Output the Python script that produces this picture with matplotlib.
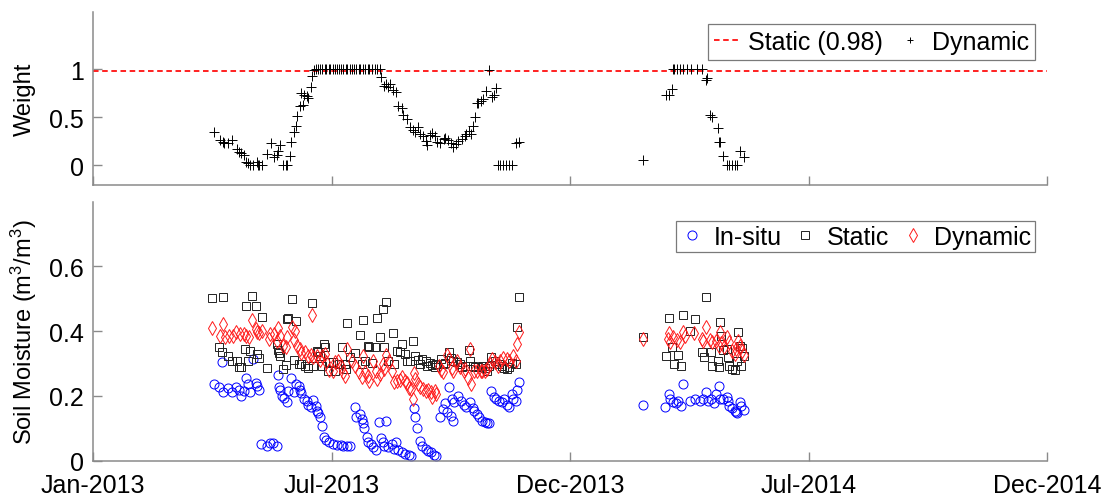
import datetime as dt
import matplotlib
matplotlib.use("Agg")
import matplotlib.pyplot as plt
import numpy as np

plt.rcParams["font.family"] = ["Liberation Sans", "DejaVu Sans"]
plt.rcParams["mathtext.fontset"] = "custom"
plt.rcParams["mathtext.rm"] = "Liberation Sans"
plt.rcParams["mathtext.it"] = "Liberation Sans:italic"
plt.rcParams["lines.scale_dashes"] = False

# ---------------------------------------------------------------- data
# x values are days since 1 Jan 2013
start_date = dt.date(2013, 1, 1)
end_date = dt.date(2014, 12, 31)
tick_labels = ["Jan-2013", "Jul-2013", "Dec-2013", "Jul-2014", "Dec-2014"]

static_weight = 0.98

weight_days = [
    92, 97, 99, 100, 103, 106, 110, 111, 113, 115, 117, 118, 120, 122, 125, 126,
    127, 129, 133, 136, 138, 140, 141, 143, 145, 147, 148, 150, 151, 153, 155,
    156, 158, 159, 160, 161, 163, 164, 166, 167, 169,
    170, 172, 173, 175, 177, 178, 180, 181, 183, 185, 186, 188, 189, 191, 193,
    194, 196, 198, 199, 201, 203, 204, 206, 208, 210, 211, 213, 215, 217, 219,
    220, 222, 224, 225, 227, 229, 231, 233, 236, 237, 240, 242, 244, 246, 248,
    250, 252, 254, 255, 257, 259, 261, 263, 265, 268, 269, 271, 273, 275, 277,
    279, 282, 284, 285, 287, 289, 290, 292, 293, 294, 296, 298, 300, 302, 305,
    306, 308, 309, 311, 313, 315, 318, 320, 323, 325,
    420, 438, 440, 442, 443, 444, 446, 448, 451, 454, 457, 461, 465, 468, 469,
    471, 473, 477, 478, 479, 481, 484, 486, 488, 490, 492, 494, 497,
]
weight_values = [
    0.35, 0.26, 0.24, 0.23, 0.23, 0.26, 0.17, 0.135, 0.125, 0.11, 0.04, 0.03,
    0.0, 0.0, 0.04, 0.0, 0.0, 0.0, 0.12, 0.23, 0.09, 0.11, 0.15, 0.215, 0.0,
    0.0, 0.0, 0.095, 0.24, 0.35, 0.41, 0.51, 0.62, 0.75, 0.63, 0.735, 0.72,
    0.70, 0.82, 0.93, 0.99,
    1.0, 1.0, 1.0, 1.0, 1.0, 1.0, 1.0, 1.0, 1.0, 1.0, 1.0, 1.0, 1.0, 1.0, 1.0,
    1.0, 1.0, 1.0, 1.0, 1.0, 1.0, 1.0, 1.0, 1.0, 1.0, 1.0, 1.0, 1.0, 1.0, 1.0,
    0.92, 0.83, 0.85, 0.82, 0.85, 0.785, 0.76, 0.615, 0.595, 0.52, 0.48, 0.40,
    0.37, 0.35, 0.40, 0.326, 0.31, 0.25, 0.215, 0.315, 0.343, 0.31, 0.24, 0.23,
    0.274, 0.29, 0.264, 0.23, 0.194, 0.22, 0.25, 0.274, 0.31, 0.326, 0.354,
    0.326, 0.41, 0.506, 0.645, 0.645, 0.673, 0.69, 0.777, 0.99, 0.708, 0.735,
    0.81, 0.0, 0.0, 0.0, 0.0, 0.0, 0.0, 0.23, 0.24,
    0.06, 0.73, 0.73, 0.795, 1.0, 1.0, 1.0, 1.0, 1.0, 1.0, 1.0, 1.0, 1.0, 0.89,
    0.905, 0.524, 0.50, 0.385, 0.246, 0.24, 0.10, 0.0, 0.0, 0.0, 0.0, 0.0, 0.15,
    0.083,
]

insitu_days = [
    92, 96, 99, 98, 103, 106, 109, 111, 113, 115, 117, 118, 120, 122, 124, 125,
    127, 128, 133, 135, 137, 140, 141, 142, 143, 144, 146, 148, 149, 151, 153,
    155, 157, 158, 159, 161, 163, 164, 166, 168, 170, 171, 172, 173, 175, 176,
    178, 180, 183, 186, 189, 191, 194, 196, 200, 201, 204, 205, 206, 207, 209,
    210, 212, 214, 216, 218, 220, 221, 222, 224, 225, 228, 230, 231, 233, 236,
    238, 241, 243, 245, 246, 247, 250, 251, 254, 256, 258, 260, 262, 265, 267,
    269, 270, 272, 273, 274, 275, 276, 279, 281, 283, 285, 288, 290, 291, 293,
    295, 297, 299, 301, 302, 304, 306, 308, 310, 312, 314, 316, 318, 320, 321,
    323, 324, 325,
    420, 437, 440, 441, 443, 445, 447, 449, 451, 456, 460, 464, 466, 468, 470,
    472, 474, 476, 478, 479, 481, 484, 485, 486, 488, 490, 491, 492, 494, 495,
    497,
]
insitu_sm = [
    0.237, 0.226, 0.211, 0.304, 0.224, 0.211, 0.228, 0.218, 0.20, 0.214, 0.255,
    0.237, 0.211, 0.314, 0.239, 0.231, 0.219, 0.052, 0.046, 0.054, 0.055, 0.046,
    0.265, 0.228, 0.218, 0.20, 0.194, 0.18, 0.216, 0.255, 0.211, 0.237, 0.231,
    0.218, 0.208, 0.19, 0.185, 0.173, 0.167, 0.187, 0.17, 0.154, 0.146, 0.134,
    0.108, 0.074, 0.065, 0.057, 0.052, 0.049, 0.047, 0.045, 0.046, 0.044, 0.165,
    0.136, 0.144, 0.129, 0.115, 0.10, 0.072, 0.057, 0.052, 0.041, 0.034, 0.118,
    0.07, 0.057, 0.046, 0.122, 0.043, 0.052, 0.036, 0.057, 0.033, 0.026, 0.021,
    0.019, 0.015, 0.163, 0.134, 0.10, 0.062, 0.046, 0.036, 0.031, 0.026, 0.019,
    0.015, 0.134, 0.16, 0.177, 0.149, 0.228, 0.139, 0.19, 0.123, 0.18, 0.20,
    0.185, 0.173, 0.167, 0.18, 0.163, 0.154, 0.144, 0.136, 0.123, 0.118, 0.115,
    0.115, 0.214, 0.198, 0.19, 0.185, 0.18, 0.19, 0.173, 0.167, 0.206, 0.19,
    0.185, 0.218, 0.242,
    0.173, 0.167, 0.206, 0.19, 0.18, 0.177, 0.185, 0.17, 0.237, 0.183, 0.19,
    0.183, 0.19, 0.211, 0.185, 0.19, 0.177, 0.206, 0.231, 0.19, 0.19, 0.196,
    0.183, 0.17, 0.163, 0.154, 0.149, 0.146, 0.18, 0.17, 0.156,
]

static_days = [
    91, 99, 96, 98, 103, 106, 110, 111, 113, 117, 116, 118, 120, 121, 124, 125,
    127, 129, 133, 140, 141, 142, 143, 145, 147, 148, 149, 152, 153, 155, 157,
    159, 162, 164, 167, 168, 171, 172, 173, 175, 176, 177, 179, 180, 183, 185,
    188, 190, 192, 193, 194, 196, 200, 204, 205, 206, 208, 210, 211, 213, 215,
    217, 219, 221, 222, 224, 225, 229, 230, 232, 234, 236, 238, 240, 242, 244,
    246, 248, 250, 251, 254, 255, 257, 259, 261, 262, 266, 267, 269, 272, 273,
    275, 278, 280, 282, 284, 287, 288, 290, 292, 294, 297, 299, 301, 302, 304,
    307, 310, 312, 314, 316, 318, 320, 323, 324, 325,
    420, 438, 440, 442, 444, 447, 449, 451, 456, 460, 465, 467, 468, 472, 473,
    477, 478, 479, 480, 481, 484, 485, 486, 488, 490, 492, 493, 494, 495, 496,
    497,
]
static_sm = [
    0.502, 0.506, 0.35, 0.335, 0.324, 0.307, 0.307, 0.29, 0.29, 0.476, 0.345,
    0.307, 0.338, 0.507, 0.478, 0.329, 0.317, 0.443, 0.286, 0.36, 0.342, 0.331,
    0.324, 0.283, 0.296, 0.437, 0.44, 0.499, 0.311, 0.43, 0.298, 0.298, 0.293,
    0.286, 0.486, 0.293, 0.34, 0.335, 0.324, 0.293, 0.36, 0.35, 0.278, 0.304,
    0.304, 0.278, 0.298, 0.35, 0.298, 0.283, 0.424, 0.319, 0.331, 0.389, 0.298,
    0.434, 0.309, 0.355, 0.352, 0.30, 0.352, 0.44, 0.383, 0.468, 0.352, 0.489,
    0.307, 0.393, 0.298, 0.34, 0.335, 0.36, 0.329, 0.307, 0.309, 0.368, 0.324,
    0.311, 0.298, 0.314, 0.307, 0.293, 0.30, 0.296, 0.288, 0.298, 0.314, 0.298,
    0.30, 0.335, 0.317, 0.309, 0.304, 0.298, 0.288, 0.293, 0.342, 0.309, 0.293,
    0.29, 0.288, 0.293, 0.286, 0.276, 0.293, 0.321, 0.309, 0.298, 0.293, 0.286,
    0.283, 0.29, 0.30, 0.298, 0.412, 0.506,
    0.381, 0.324, 0.44, 0.352, 0.298, 0.326, 0.293, 0.45, 0.401, 0.437, 0.335,
    0.319, 0.506, 0.335, 0.293, 0.307, 0.29, 0.427, 0.386, 0.342, 0.345, 0.321,
    0.293, 0.283, 0.28, 0.309, 0.396, 0.355, 0.293, 0.348, 0.324,
]

dynamic_days = [
    91, 97, 99, 101, 104, 107, 109, 112, 115, 117, 119, 121, 124, 125, 127, 129,
    134, 135, 138, 140, 141, 143, 145, 147, 148, 152, 153, 154, 156, 158, 159,
    162, 164, 166, 167, 168, 171, 173, 175, 177, 178, 180, 183, 185, 187, 189,
    191, 192, 194, 198, 200, 203, 205, 206, 208, 210, 211, 214, 216, 217, 219,
    221, 222, 224, 226, 228, 230, 232, 234, 236, 238, 240, 241, 243, 244, 245,
    246, 248, 250, 252, 254, 256, 258, 259, 261, 262, 264, 266, 267, 270, 272,
    274, 275, 278, 280, 283, 284, 286, 288, 289, 291, 293, 296, 297, 299, 301,
    303, 305, 307, 309, 311, 313, 316, 318, 321, 323, 324, 325,
    420, 439, 440, 441, 443, 446, 448, 451, 452, 459, 465, 466, 468, 471, 473,
    476, 478, 479, 480, 482, 484, 486, 488, 490, 491, 493, 494, 496, 497,
]
dynamic_sm = [
    0.41, 0.386, 0.422, 0.381, 0.386, 0.386, 0.396, 0.391, 0.391, 0.386, 0.383,
    0.434, 0.406, 0.396, 0.393, 0.40, 0.376, 0.391, 0.391, 0.37, 0.41, 0.386,
    0.355, 0.35, 0.381, 0.412, 0.372, 0.40, 0.355, 0.345, 0.331, 0.335, 0.324,
    0.327, 0.451, 0.319, 0.324, 0.311, 0.324, 0.329, 0.304, 0.28, 0.278, 0.304,
    0.309, 0.293, 0.273, 0.26, 0.346, 0.309, 0.293, 0.273, 0.257, 0.324, 0.273,
    0.262, 0.247, 0.309, 0.276, 0.252, 0.268, 0.298, 0.283, 0.327, 0.307, 0.276,
    0.242, 0.247, 0.249, 0.257, 0.247, 0.239, 0.224, 0.221, 0.19, 0.27, 0.252,
    0.237, 0.226, 0.221, 0.214, 0.218, 0.211, 0.196, 0.214, 0.206, 0.293, 0.28,
    0.273, 0.327, 0.314, 0.286, 0.276, 0.309, 0.29, 0.276, 0.283, 0.255, 0.345,
    0.237, 0.276, 0.276, 0.276, 0.278, 0.276, 0.283, 0.298, 0.314, 0.304, 0.293,
    0.309, 0.317, 0.314, 0.309, 0.324, 0.309, 0.36, 0.396,
    0.376, 0.376, 0.393, 0.365, 0.381, 0.372, 0.365, 0.396, 0.386, 0.393, 0.376,
    0.37, 0.412, 0.372, 0.365, 0.37, 0.355, 0.396, 0.362, 0.35, 0.381, 0.365,
    0.34, 0.329, 0.345, 0.369, 0.355, 0.34, 0.327,
]

# ---------------------------------------------------------------- figure
span = (end_date - start_date).days
xticks = np.linspace(0, span, len(tick_labels))

fig = plt.figure(figsize=(11.12, 5.02), dpi=100)
ax1 = fig.add_axes([0.0839, 0.6301, 0.8579, 0.3446])
ax2 = fig.add_axes([0.0839, 0.0803, 0.8579, 0.5163])

spine_color = "#8a8a8a"
fs_tick = 18
fs_label = 17


def style_axes(ax):
    for side in ("top", "right"):
        ax.spines[side].set_visible(False)
    for side in ("left", "bottom"):
        ax.spines[side].set_color(spine_color)
        ax.spines[side].set_linewidth(1.1)
    ax.tick_params(direction="in", length=6.5, width=1.0, color=spine_color,
                   labelsize=fs_tick, labelcolor="black")
    ax.tick_params(axis="x", pad=9)
    ax.tick_params(axis="y", pad=7)
    ax.set_xlim(0, span)
    ax.set_xticks(xticks)


# Weight panel
style_axes(ax1)
ax1.axhline(static_weight, color="#ff2020", linestyle="--", lw=1.4,
            dashes=(4.0, 2.6), label=f"Static ({static_weight})")
ax1.plot(weight_days, weight_values, linestyle="none", marker="+",
         color="black", markersize=7, markeredgewidth=0.7, label="Dynamic")
ax1.set_ylim(-0.2, 1.6)
ax1.set_yticks([0, 0.5, 1])
ax1.set_yticklabels(["0", "0.5", "1"])
ax1.set_xticklabels([])
ax1.set_ylabel("Weight", fontsize=fs_label, labelpad=9)
leg1 = ax1.legend(loc="upper right", bbox_to_anchor=(0.987, 0.929), ncol=2,
                  fontsize=fs_tick, frameon=True, fancybox=False, framealpha=1,
                  borderaxespad=0, borderpad=0.25, handlelength=1.0,
                  handletextpad=0.35, columnspacing=0.6, markerscale=0.6)
leg1.get_frame().set_edgecolor("#7a7a7a")
leg1.get_frame().set_linewidth(0.9)

# Soil moisture panel
style_axes(ax2)
ax2.plot(insitu_days, insitu_sm, linestyle="none", marker="o",
         markerfacecolor="none", markeredgecolor="#0000ff", markersize=6.5,
         markeredgewidth=0.7, label="In-situ")
ax2.plot(static_days, static_sm, linestyle="none", marker="s",
         markerfacecolor="none", markeredgecolor="#222222", markersize=5.5,
         markeredgewidth=0.7, label="Static")
ax2.plot(dynamic_days, dynamic_sm, linestyle="none", marker="d",
         markerfacecolor="none", markeredgecolor="#ff1a1a", markersize=7,
         markeredgewidth=0.7, label="Dynamic")
ax2.set_ylim(0, 0.8)
ax2.set_yticks([0, 0.2, 0.4, 0.6])
ax2.set_yticklabels(["0", "0.2", "0.4", "0.6"])
ax2.set_xticklabels(tick_labels)
ax2.set_ylabel("Soil Moisture (m$^{3}$/m$^{3}$)", fontsize=fs_label,
               labelpad=7)
leg2 = ax2.legend(loc="upper right", bbox_to_anchor=(0.987, 0.925), ncol=3,
                  fontsize=fs_tick, frameon=True, fancybox=False, framealpha=1,
                  borderaxespad=0, borderpad=0.15, handlelength=1.0,
                  handletextpad=0.35, columnspacing=0.45)
leg2.get_frame().set_edgecolor("#7a7a7a")
leg2.get_frame().set_linewidth(0.9)

fig.savefig("out.png", dpi=100)
